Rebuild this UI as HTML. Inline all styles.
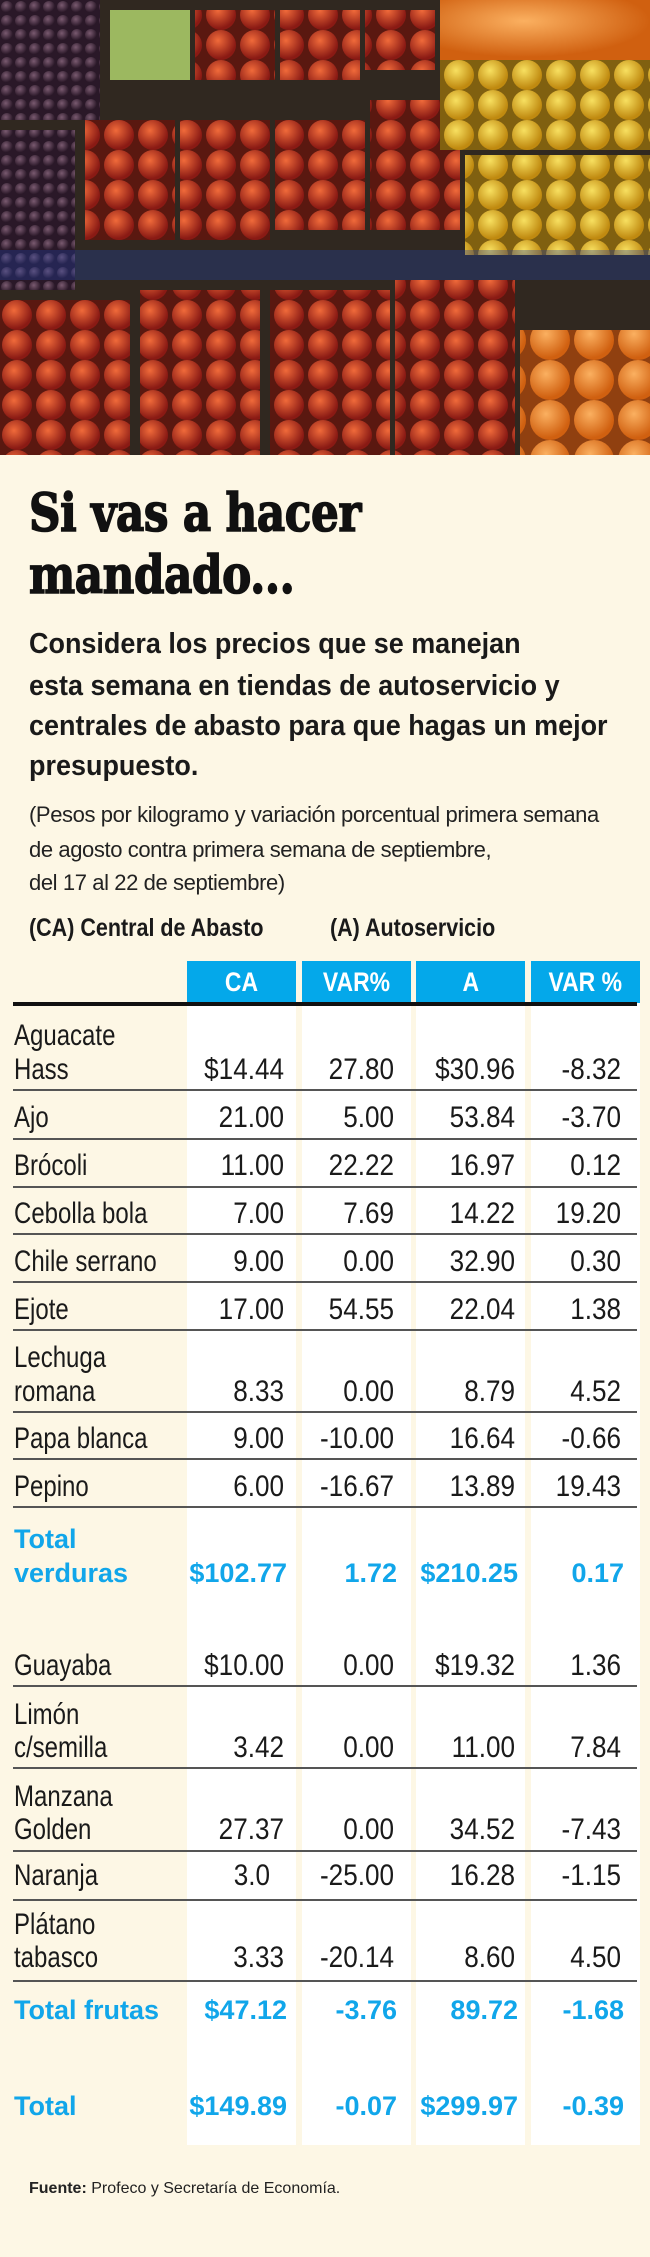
<!DOCTYPE html>
<html><head><meta charset="utf-8"><style>
*{margin:0;padding:0;box-sizing:border-box}
body{width:650px;height:2257px;background:#fdf7e5;position:relative;overflow:hidden;font-family:"Liberation Sans",sans-serif;color:#1a1a1a}
.a{position:absolute;white-space:nowrap}
.photo{position:absolute;left:0;top:0;width:650px;height:455px;background:#2a2420;overflow:hidden}
.t{font-family:"DejaVu Serif","Liberation Serif",serif;font-weight:bold;font-size:52px;line-height:52px;transform-origin:0 0;transform:scaleX(0.84);letter-spacing:-0.5px;color:#111;-webkit-text-stroke:1.6px #111}
.sub{font-weight:bold;font-size:29px;line-height:29px;left:29px;transform-origin:0 0;transform:scaleX(0.93)}
.par{font-size:22px;line-height:22px;left:29px;color:#222;letter-spacing:-0.4px}
.col{position:absolute;top:1003px;height:1142px;background:#fff}
.hd{position:absolute;top:961px;height:42px;background:#04a8ea;color:#fff;font-weight:bold;font-size:27px;line-height:42px;text-align:center}
.hd span{display:inline-block;transform:scaleX(0.85)}
.ln{position:absolute;left:13px;width:624px;height:2px;background:#555}
.lab{font-size:30px;line-height:30px;left:14px;transform-origin:0 0;transform:scaleX(0.8)}
.n{font-size:30px;line-height:30px;text-align:right;width:120px;transform-origin:100% 0;transform:scaleX(0.87)}
.b{font-family:"Liberation Sans",sans-serif;font-weight:bold;color:#11a6ea;font-size:27px;line-height:27px}
</style></head><body>
<div class="photo">
<svg width="650" height="455">
<defs>
<radialGradient id="r" cx="40%" cy="35%" r="60%"><stop offset="0" stop-color="#f06a3a"/><stop offset="1" stop-color="#8a1a14"/></radialGradient>
<radialGradient id="y" cx="40%" cy="35%" r="60%"><stop offset="0" stop-color="#f8e060"/><stop offset="1" stop-color="#c08a10"/></radialGradient>
<radialGradient id="o" cx="40%" cy="35%" r="60%"><stop offset="0" stop-color="#fbb060"/><stop offset="1" stop-color="#d06010"/></radialGradient>
<radialGradient id="p" cx="40%" cy="35%" r="60%"><stop offset="0" stop-color="#7a5a70"/><stop offset="1" stop-color="#2a1828"/></radialGradient>
<pattern id="pr" width="34" height="30" patternUnits="userSpaceOnUse"><rect width="34" height="30" fill="#5a1810"/><circle cx="17" cy="15" r="15" fill="url(#r)"/></pattern>
<pattern id="py" width="34" height="30" patternUnits="userSpaceOnUse"><rect width="34" height="30" fill="#806010"/><circle cx="17" cy="15" r="15" fill="url(#y)"/></pattern>
<pattern id="po" width="44" height="40" patternUnits="userSpaceOnUse"><rect width="44" height="40" fill="#904010"/><circle cx="22" cy="20" r="20" fill="url(#o)"/></pattern>
<pattern id="pp" width="14" height="14" patternUnits="userSpaceOnUse"><rect width="14" height="14" fill="#2a1828"/><circle cx="7" cy="7" r="6" fill="url(#p)"/></pattern>
</defs>
<rect width="650" height="455" fill="#302820"/>
<rect x="0" y="0" width="100" height="120" fill="url(#pp)"/>
<rect x="0" y="130" width="75" height="160" fill="url(#pp)"/>
<rect x="110" y="10" width="80" height="70" fill="#9cb860"/>
<rect x="195" y="10" width="80" height="70" fill="url(#pr)"/>
<rect x="280" y="10" width="80" height="70" fill="url(#pr)"/>
<rect x="365" y="10" width="70" height="60" fill="url(#pr)"/>
<rect x="440" y="0" width="210" height="60" fill="url(#o)"/>
<rect x="85" y="120" width="90" height="120" fill="url(#pr)"/>
<rect x="180" y="120" width="90" height="120" fill="url(#pr)"/>
<rect x="275" y="120" width="90" height="110" fill="url(#pr)"/>
<rect x="370" y="100" width="90" height="130" fill="url(#pr)"/>
<rect x="440" y="60" width="210" height="90" fill="url(#py)"/>
<rect x="465" y="155" width="185" height="100" fill="url(#py)"/>
<rect x="0" y="300" width="130" height="155" fill="url(#pr)"/>
<rect x="140" y="290" width="120" height="165" fill="url(#pr)"/>
<rect x="270" y="290" width="120" height="165" fill="url(#pr)"/>
<rect x="395" y="280" width="120" height="175" fill="url(#pr)"/>
<rect x="520" y="330" width="130" height="125" fill="url(#po)"/>
<rect x="0" y="250" width="650" height="30" fill="#2040a0" opacity="0.35"/>
</svg>
</div>

<div class="a t" style="left:29px;top:488px">Si vas a hacer</div>
<div class="a t" style="left:29px;top:550px">mandado...</div>

<div class="a sub" style="top:630px">Considera los precios que se manejan</div>
<div class="a sub" style="top:672px">esta semana en tiendas de autoservicio y</div>
<div class="a sub" style="top:712px">centrales de abasto para que hagas un mejor</div>
<div class="a sub" style="top:752px">presupuesto.</div>

<div class="a par" style="top:804px">(Pesos por kilogramo y variación porcentual primera semana</div>
<div class="a par" style="top:839px">de agosto contra primera semana de septiembre,</div>
<div class="a par" style="top:872px">del 17 al 22 de septiembre)</div>

<div class="a" style="left:29px;top:916px;font-weight:bold;font-size:25px;line-height:25px;transform-origin:0 0;transform:scaleX(0.86)">(CA) Central de Abasto</div>
<div class="a" style="left:330px;top:916px;font-weight:bold;font-size:25px;line-height:25px;transform-origin:0 0;transform:scaleX(0.86)">(A) Autoservicio</div>

<div class="col" style="left:187px;width:109px"></div>
<div class="col" style="left:302px;width:109px"></div>
<div class="col" style="left:416px;width:109px"></div>
<div class="col" style="left:531px;width:109px"></div>
<div class="hd" style="left:187px;width:109px"><span>CA</span></div>
<div class="hd" style="left:302px;width:109px"><span>VAR%</span></div>
<div class="hd" style="left:416px;width:109px"><span>A</span></div>
<div class="hd" style="left:531px;width:109px"><span>VAR %</span></div>
<div class="a" style="left:13px;top:1002px;width:624px;height:4px;background:#111"></div>

<div class="ln" style="top:1089px"></div>
<div class="ln" style="top:1138px"></div>
<div class="ln" style="top:1186px"></div>
<div class="ln" style="top:1233px"></div>
<div class="ln" style="top:1281px"></div>
<div class="ln" style="top:1329px"></div>
<div class="ln" style="top:1411px"></div>
<div class="ln" style="top:1458px"></div>
<div class="ln" style="top:1506px"></div>
<div class="ln" style="top:1685px"></div>
<div class="ln" style="top:1767px"></div>
<div class="ln" style="top:1850px"></div>
<div class="ln" style="top:1899px"></div>
<div class="ln" style="top:1980px"></div>

<div class="a lab" style="top:1021px">Aguacate</div>
<div class="a lab" style="top:1055px">Hass</div>
<div class="a n" style="left:164px;top:1055px">$14.44</div>
<div class="a n" style="left:274px;top:1055px">27.80</div>
<div class="a n" style="left:395px;top:1055px">$30.96</div>
<div class="a n" style="left:501px;top:1055px">-8.32</div>

<div class="a lab" style="top:1103px">Ajo</div>
<div class="a n" style="left:164px;top:1103px">21.00</div>
<div class="a n" style="left:274px;top:1103px">5.00</div>
<div class="a n" style="left:395px;top:1103px">53.84</div>
<div class="a n" style="left:501px;top:1103px">-3.70</div>

<div class="a lab" style="top:1151px">Brócoli</div>
<div class="a n" style="left:164px;top:1151px">11.00</div>
<div class="a n" style="left:274px;top:1151px">22.22</div>
<div class="a n" style="left:395px;top:1151px">16.97</div>
<div class="a n" style="left:501px;top:1151px">0.12</div>

<div class="a lab" style="top:1199px">Cebolla bola</div>
<div class="a n" style="left:164px;top:1199px">7.00</div>
<div class="a n" style="left:274px;top:1199px">7.69</div>
<div class="a n" style="left:395px;top:1199px">14.22</div>
<div class="a n" style="left:501px;top:1199px">19.20</div>

<div class="a lab" style="top:1247px">Chile serrano</div>
<div class="a n" style="left:164px;top:1247px">9.00</div>
<div class="a n" style="left:274px;top:1247px">0.00</div>
<div class="a n" style="left:395px;top:1247px">32.90</div>
<div class="a n" style="left:501px;top:1247px">0.30</div>

<div class="a lab" style="top:1295px">Ejote</div>
<div class="a n" style="left:164px;top:1295px">17.00</div>
<div class="a n" style="left:274px;top:1295px">54.55</div>
<div class="a n" style="left:395px;top:1295px">22.04</div>
<div class="a n" style="left:501px;top:1295px">1.38</div>

<div class="a lab" style="top:1343px">Lechuga</div>
<div class="a lab" style="top:1377px">romana</div>
<div class="a n" style="left:164px;top:1377px">8.33</div>
<div class="a n" style="left:274px;top:1377px">0.00</div>
<div class="a n" style="left:395px;top:1377px">8.79</div>
<div class="a n" style="left:501px;top:1377px">4.52</div>

<div class="a lab" style="top:1424px">Papa blanca</div>
<div class="a n" style="left:164px;top:1424px">9.00</div>
<div class="a n" style="left:274px;top:1424px">-10.00</div>
<div class="a n" style="left:395px;top:1424px">16.64</div>
<div class="a n" style="left:501px;top:1424px">-0.66</div>

<div class="a lab" style="top:1472px">Pepino</div>
<div class="a n" style="left:164px;top:1472px">6.00</div>
<div class="a n" style="left:274px;top:1472px">-16.67</div>
<div class="a n" style="left:395px;top:1472px">13.89</div>
<div class="a n" style="left:501px;top:1472px">19.43</div>

<div class="a b" style="left:14px;top:1526px">Total</div>
<div class="a b" style="left:14px;top:1560px">verduras</div>
<div class="a b" style="left:164px;top:1560px;width:123px;text-align:right">$102.77</div>
<div class="a b" style="left:274px;top:1560px;width:123px;text-align:right">1.72</div>
<div class="a b" style="left:395px;top:1560px;width:123px;text-align:right">$210.25</div>
<div class="a b" style="left:501px;top:1560px;width:123px;text-align:right">0.17</div>

<div class="a lab" style="top:1651px">Guayaba</div>
<div class="a n" style="left:164px;top:1651px">$10.00</div>
<div class="a n" style="left:274px;top:1651px">0.00</div>
<div class="a n" style="left:395px;top:1651px">$19.32</div>
<div class="a n" style="left:501px;top:1651px">1.36</div>

<div class="a lab" style="top:1700px">Limón</div>
<div class="a lab" style="top:1733px">c/semilla</div>
<div class="a n" style="left:164px;top:1733px">3.42</div>
<div class="a n" style="left:274px;top:1733px">0.00</div>
<div class="a n" style="left:395px;top:1733px">11.00</div>
<div class="a n" style="left:501px;top:1733px">7.84</div>

<div class="a lab" style="top:1782px">Manzana</div>
<div class="a lab" style="top:1815px">Golden</div>
<div class="a n" style="left:164px;top:1815px">27.37</div>
<div class="a n" style="left:274px;top:1815px">0.00</div>
<div class="a n" style="left:395px;top:1815px">34.52</div>
<div class="a n" style="left:501px;top:1815px">-7.43</div>

<div class="a lab" style="top:1861px">Naranja</div>
<div class="a n" style="left:150px;top:1861px">3.0</div>
<div class="a n" style="left:274px;top:1861px">-25.00</div>
<div class="a n" style="left:395px;top:1861px">16.28</div>
<div class="a n" style="left:501px;top:1861px">-1.15</div>

<div class="a lab" style="top:1910px">Plátano</div>
<div class="a lab" style="top:1943px">tabasco</div>
<div class="a n" style="left:164px;top:1943px">3.33</div>
<div class="a n" style="left:274px;top:1943px">-20.14</div>
<div class="a n" style="left:395px;top:1943px">8.60</div>
<div class="a n" style="left:501px;top:1943px">4.50</div>

<div class="a b" style="left:14px;top:1997px">Total frutas</div>
<div class="a b" style="left:164px;top:1997px;width:123px;text-align:right">$47.12</div>
<div class="a b" style="left:274px;top:1997px;width:123px;text-align:right">-3.76</div>
<div class="a b" style="left:395px;top:1997px;width:123px;text-align:right">89.72</div>
<div class="a b" style="left:501px;top:1997px;width:123px;text-align:right">-1.68</div>

<div class="a b" style="left:14px;top:2093px">Total</div>
<div class="a b" style="left:164px;top:2093px;width:123px;text-align:right">$149.89</div>
<div class="a b" style="left:274px;top:2093px;width:123px;text-align:right">-0.07</div>
<div class="a b" style="left:395px;top:2093px;width:123px;text-align:right">$299.97</div>
<div class="a b" style="left:501px;top:2093px;width:123px;text-align:right">-0.39</div>

<div class="a" style="left:29px;top:2181px;font-size:16px;line-height:16px;color:#222"><b>Fuente:</b> Profeco y Secretaría de Economía.</div>
</body></html>
